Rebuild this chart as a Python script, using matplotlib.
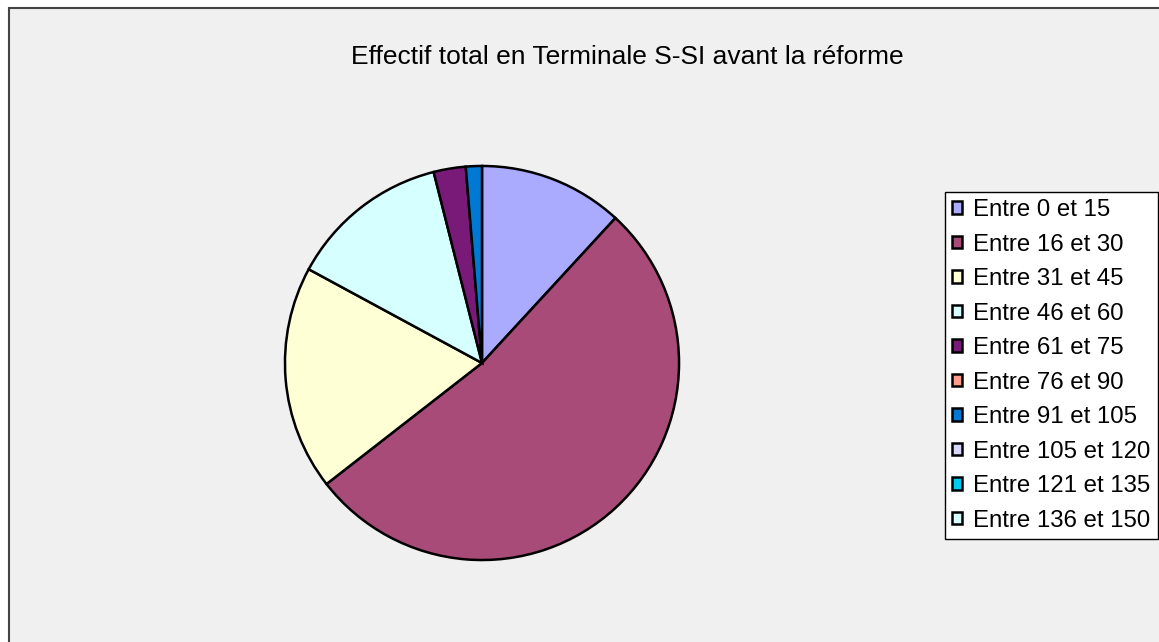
import matplotlib.pyplot as plt
from matplotlib.patches import Rectangle

plt.rcParams['font.family'] = ['Liberation Sans', 'DejaVu Sans']

# données
categories = ['Entre 0 et 15', 'Entre 16 et 30', 'Entre 31 et 45', 'Entre 46 et 60',
              'Entre 61 et 75', 'Entre 76 et 90', 'Entre 91 et 105', 'Entre 105 et 120',
              'Entre 121 et 135', 'Entre 136 et 150']
effectifs = [9, 40, 14, 10, 2, 0, 1, 0, 0, 0]
couleurs = ['#AAAAFF', '#A84B78', '#FFFFD6', '#D6FFFF', '#7A1A78',
            '#FF9A8C', '#0078D4', '#D6D6FF', '#00CCF0', '#D6FFFF']

fig = plt.figure(figsize=(11.59, 6.42), dpi=100)
fig.patch.set_facecolor('white')

# cadre du graphique
fig.patches.append(Rectangle((9 / 1159, -0.1), 1.2, 1 - 8 / 642 + 0.1,
                             transform=fig.transFigure, facecolor='#F0F0F0',
                             edgecolor='#444444', linewidth=1.5, zorder=-1))

ax = fig.add_axes([283 / 1159, 80 / 642, 398 / 1159, 398 / 642])
idx = [i for i, v in enumerate(effectifs) if v > 0]
ax.pie([effectifs[i] for i in idx], colors=[couleurs[i] for i in idx],
       startangle=90, counterclock=False, radius=1,
       wedgeprops=dict(edgecolor='black', linewidth=1.8))
ax.set_xlim(-1.01, 1.01)
ax.set_ylim(-1.01, 1.01)
ax.set_aspect('equal')
ax.axis('off')

fig.text(627 / 1159, 1 - 57 / 642, 'Effectif total en Terminale S-SI avant la réforme',
         ha='center', va='center', fontsize=19)

handles = [Rectangle((0, 0), 1, 1, facecolor=c, edgecolor='black', linewidth=1.8)
           for c in couleurs]
leg = fig.legend(handles, categories, loc='upper left',
                 bbox_to_anchor=(945 / 1159, 1 - 192 / 642),
                 fontsize=17.3, frameon=True, fancybox=False, edgecolor='black',
                 facecolor='white', framealpha=1, handlelength=0.42, handleheight=0.42,
                 handletextpad=0.45, labelspacing=0.52, borderpad=0.3, borderaxespad=0)
leg.get_frame().set_linewidth(1)

fig.savefig('out.png', dpi=100)
